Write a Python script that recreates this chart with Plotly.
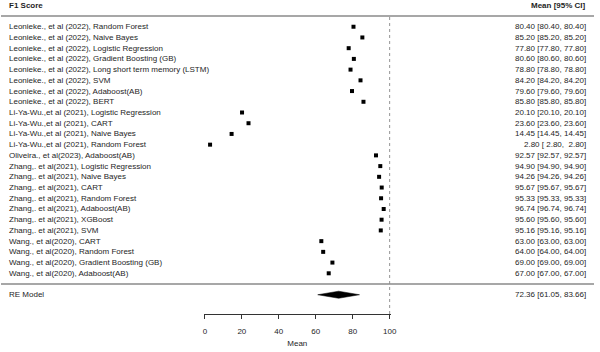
import plotly.graph_objects as go

labels = [
    "Leonieke., et al (2022), Random Forest",
    "Leonieke., et al (2022), Naive Bayes",
    "Leonieke., et al (2022), Logistic Regression",
    "Leonieke., et al (2022), Gradient Boosting (GB)",
    "Leonieke., et al (2022), Long short term memory (LSTM)",
    "Leonieke., et al (2022), SVM",
    "Leonieke., et al (2022), Adaboost(AB)",
    "Leonieke., et al (2022), BERT",
    "Li-Ya-Wu.,et al (2021), Logistic Regression",
    "Li-Ya-Wu.,et al (2021), CART",
    "Li-Ya-Wu.,et al (2021), Naive Bayes",
    "Li-Ya-Wu.,et al (2021), Random Forest",
    "Oliveira., et al(2023), Adaboost(AB)",
    "Zhang,. et al(2021), Logistic Regression",
    "Zhang,. et al(2021), Naive Bayes",
    "Zhang,. et al(2021), CART",
    "Zhang,. et al(2021), Random Forest",
    "Zhang,. et al(2021), Adaboost(AB)",
    "Zhang,. et al(2021), XGBoost",
    "Zhang,. et al(2021), SVM",
    "Wang., et al(2020), CART",
    "Wang., et al(2020), Random Forest",
    "Wang., et al(2020), Gradient Boosting (GB)",
    "Wang., et al(2020), Adaboost(AB)",
]
means = [80.40, 85.20, 77.80, 80.60, 78.80, 84.20, 79.60, 85.80,
         20.10, 23.60, 14.45, 2.80, 92.57,
         94.90, 94.26, 95.67, 95.33, 96.74, 95.60, 95.16,
         63.00, 64.00, 69.00, 67.00]
ci_low = list(means)
ci_high = list(means)

re_label = "RE Model"
re_mean, re_low, re_high = 72.36, 61.05, 83.66

tick_vals = [0, 20, 40, 60, 80, 100]
x_title = "Mean"
left_header = "F1 Score"
right_header = "Mean [95% CI]"

k = len(labels)
rows = [k - i for i in range(k)]  # k..1 top to bottom
re_row = -1
header_line_row = k + 1
header_text_row = k + 2

NB = "\u00a0"
def fmt(v):
    s = f"{v:5.2f}"
    return s.replace(" ", NB)

def ci_text(m, lo, hi):
    return f"{fmt(m).strip(NB)} [{fmt(lo)}, {NB}{fmt(hi).strip(NB)}]" if hi < 10 else f"{fmt(m)} [{fmt(lo)}, {fmt(hi)}]"

W, H = 600, 352
x0_px, x100_px = 206.3, 393.3
ppu = (x100_px - x0_px) / 100.0
xr = [-0.5, 100.5]
dom_x = [(x0_px + xr[0] * ppu) / W, (x0_px + xr[1] * ppu) / W]
row_h = 10.72
row1_px = 273.3
axis_px = 314.0
y_bot = 1 - (axis_px - row1_px) / row_h
y_top = 1 + row1_px / row_h
dom_y = [(H - axis_px) / H, 1.0]

txt_col = "#1e1e1e"
font_fam = "Liberation Sans, Arial, sans-serif"

fig = go.Figure()

# study points
fig.add_trace(go.Scatter(
    x=means, y=rows, mode="markers",
    marker=dict(symbol="square", size=4, color="black"),
    cliponaxis=False, hoverinfo="skip", showlegend=False,
))

# RE diamond
h = 0.33
fig.add_trace(go.Scatter(
    x=[re_low, re_mean, re_high, re_mean, re_low],
    y=[re_row, re_row + h, re_row, re_row - h, re_row],
    mode="lines", fill="toself", fillcolor="black",
    line=dict(color="black", width=0.5),
    hoverinfo="skip", showlegend=False,
))

shapes = [
    dict(type="line", xref="paper", yref="y", x0=0, x1=1,
         y0=header_line_row, y1=header_line_row,
         line=dict(color="#8a8a8a", width=1.6)),
    dict(type="line", xref="paper", yref="y", x0=0, x1=1,
         y0=0, y1=0, line=dict(color="#8a8a8a", width=1.6)),
    dict(type="line", xref="x", yref="y", x0=100, x1=100,
         y0=y_bot, y1=header_line_row,
         line=dict(color="#8c8c8c", width=1, dash="dot")),
]

annotations = []
lx = 6.5 / W
rx = 593.5 / W
for lab, r, m, lo, hi in zip(labels, rows, means, ci_low, ci_high):
    annotations.append(dict(x=lx, y=r, xref="paper", yref="y", text=lab,
                            showarrow=False, xanchor="left", yanchor="middle",
                            font=dict(size=8, color=txt_col, family=font_fam)))
    annotations.append(dict(x=rx, y=r, xref="paper", yref="y",
                            text=ci_text(m, lo, hi),
                            showarrow=False, xanchor="right", yanchor="middle",
                            font=dict(size=8, color=txt_col, family=font_fam)))
annotations.append(dict(x=lx, y=re_row, xref="paper", yref="y", text=re_label,
                        showarrow=False, xanchor="left", yanchor="middle",
                        font=dict(size=8, color=txt_col, family=font_fam)))
annotations.append(dict(x=rx, y=re_row, xref="paper", yref="y",
                        text=ci_text(re_mean, re_low, re_high),
                        showarrow=False, xanchor="right", yanchor="middle",
                        font=dict(size=8, color=txt_col, family=font_fam)))
annotations.append(dict(x=lx, y=header_text_row, xref="paper", yref="y",
                        text=f"<b>{left_header}</b>",
                        showarrow=False, xanchor="left", yanchor="middle",
                        font=dict(size=8, color=txt_col, family=font_fam)))
annotations.append(dict(x=rx, y=header_text_row, xref="paper", yref="y",
                        text=f"<b>{right_header}</b>",
                        showarrow=False, xanchor="right", yanchor="middle",
                        font=dict(size=8, color=txt_col, family=font_fam)))

fig.update_layout(
    width=W, height=H,
    margin=dict(l=0, r=0, t=0, b=0),
    paper_bgcolor="white", plot_bgcolor="white",
    shapes=shapes, annotations=annotations,
    xaxis=dict(domain=dom_x, range=xr, tickvals=tick_vals,
               showline=True, linecolor="#333333", linewidth=1,
               ticks="outside", ticklen=4, tickcolor="#333333", tickwidth=1,
               showgrid=False, zeroline=False,
               tickfont=dict(size=8, color=txt_col, family=font_fam),
               ticklabelstandoff=5,
               title=dict(text=x_title, standoff=5,
                          font=dict(size=8, color=txt_col, family=font_fam))),
    yaxis=dict(domain=dom_y, range=[y_bot, y_top], visible=False),
    showlegend=False,
)

fig.write_html("out.html")
